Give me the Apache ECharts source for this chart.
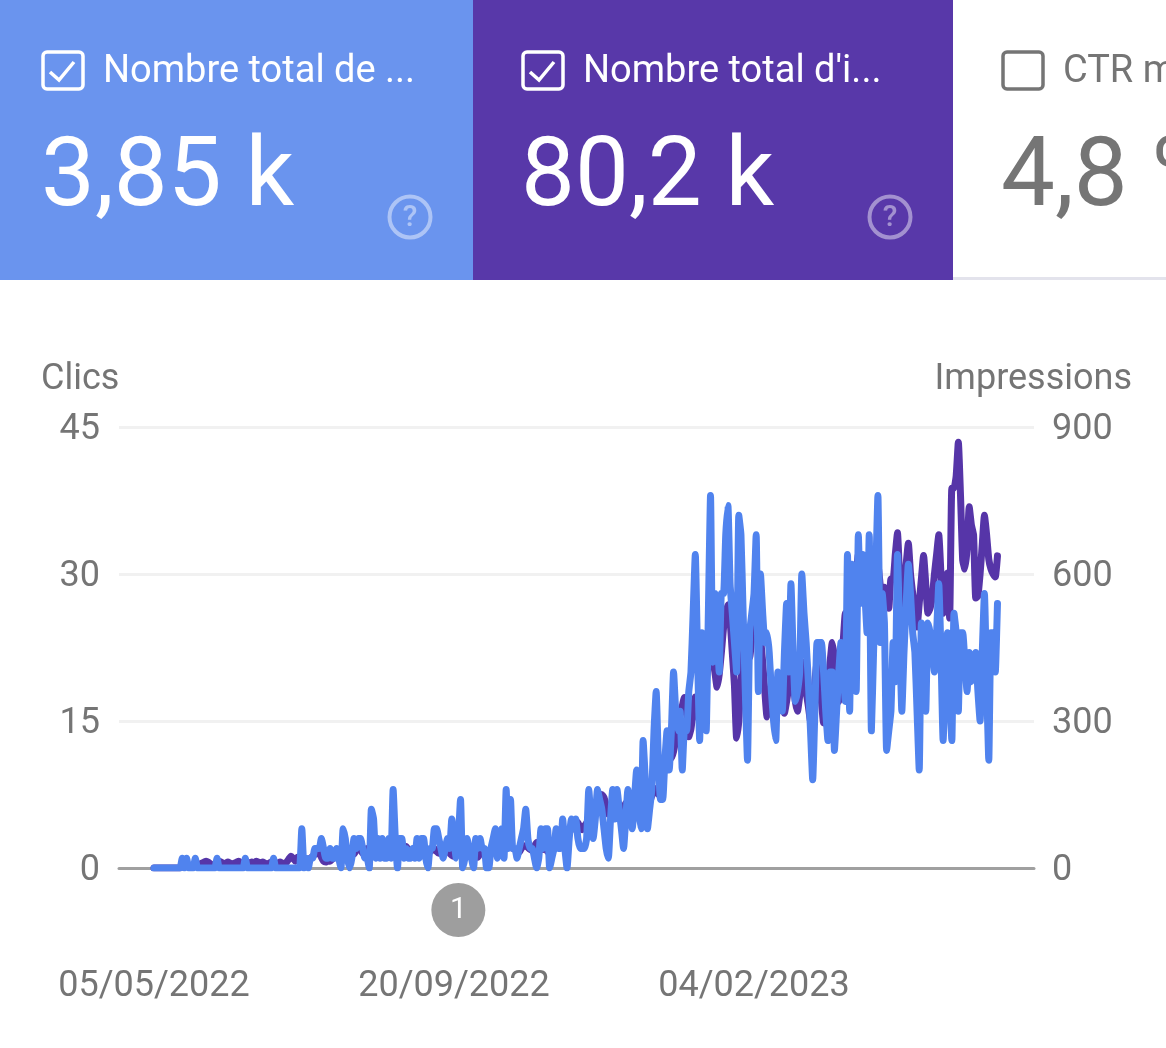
<!DOCTYPE html>
<html lang="fr">
<head>
    <meta charset="UTF-8">
    <title>Performances</title>
    <script src="https://cdn.jsdelivr.net/npm/echarts@6/dist/echarts.min.js"></script>
    <style>
        html, body { margin: 0; padding: 0; background: #fff; overflow: hidden; }
    </style>
</head>
<body>
    <div id="main" style="width: 1166px;height:1048px;"></div>

    <script>
        const fontName = "Roboto"
        const tickLabels = ["05/05/2022", "20/09/2022", "04/02/2023"]
        // position des dates sur l'axe, en nombre de points depuis le début
        const tickDays = [0, 138, 276]
        const annotationDay = 140

        const clics = [
            0,0,0,0,0,0,0,0,0,0,0,0,0,1,0,1,0,0,0,1,
            0,0,0,0,0,0,0,0,0,1,0,0,0,0,0,0,0,0,0,0,
            0,0,1,0,0,0,0,0,0,0,0,0,0,0,0,1,0,0,0,0,
            0,0,0,0,0,0,0,0,4,0,1,0,1,1,2,2,2,3,2,1,
            1,2,1,1,2,1,0,4,3,1,0,1,3,2,3,3,2,1,1,0,
            6,5,1,3,1,3,1,1,3,1,8,3,0,3,3,1,2,1,1,2,
            1,3,1,3,3,1,0,2,2,4,4,3,2,1,2,3,2,5,3,1,
            3,7,0,1,3,2,1,0,3,2,3,2,2,0,0,2,3,4,1,2,
            4,1,8,2,7,2,2,1,2,3,4,6,3,2,2,1,0,1,4,2,
            4,4,0,1,2,4,2,2,5,2,0,3,5,4,5,3,2,2,2,3,
            8,5,3,5,8,7,6,4,2,1,5,8,5,8,6,4,2,5,8,6,
            4,7,10,6,4,13,9,4,6,8,14,18,11,7,7,11,14,10,14,20,
            16,14,16,10,14,14,18,20,26,32,22,13,24,18,14,26,38,21,28,24,
            20,28,28,34,37,29,26,23,20,36,34,26,18,11,24,26,28,34,18,30,
            26,23,24,22,18,15,13,20,18,16,22,27,20,29,22,17,18,20,30,26,
            23,19,14,9,16,23,23,23,20,16,13,20,20,12,16,20,23,20,17,32,
            16,31,25,18,34,27,32,28,24,34,14,22,30,38,23,28,25,12,14,16,
            23,19,32,24,16,22,27,31,28,24,22,16,10,25,20,16,25,24,22,20,
            24,29,22,13,19,24,18,13,26,24,16,24,24,21,18,22,19,20,22,18,15,22,28,19,11,24,24,20,27
        ]

        const impressions = [
            0,0,0,0,0,0,0,0,0,0,0,0,0,2,4,3,2,4,6,4,
            6,8,10,12,14,12,8,6,8,10,14,12,8,10,12,10,8,10,12,14,
            10,8,10,12,10,12,10,14,12,10,12,10,8,10,12,10,8,10,12,10,
            8,12,18,24,20,14,22,20,16,12,14,18,20,24,28,34,30,22,14,12,
            14,14,18,24,30,34,32,30,26,34,38,34,28,36,42,38,30,36,40,34,
            30,32,28,34,36,32,30,38,34,32,40,44,36,32,34,38,44,36,34,32,
            30,34,38,40,36,30,28,34,36,40,34,30,38,28,32,36,30,26,24,30,
            34,40,30,28,26,24,30,28,24,22,30,34,28,24,28,40,36,30,34,38,
            42,36,46,52,44,40,38,34,32,40,44,46,42,38,36,44,52,46,40,38,
            42,34,30,36,44,50,58,62,54,70,78,72,80,88,96,92,84,78,86,92,
            98,104,112,118,126,136,150,144,128,110,118,130,136,128,116,108,118,132,126,112,
            120,128,122,134,150,164,150,140,136,148,156,162,150,172,186,206,232,244,224,238,
            262,290,312,330,348,338,268,284,320,349,330,300,310,340,380,420,470,430,400,369,
            395,440,490,520,537,505,440,373,265,300,380,430,470,440,430,470,500,540,510,470,
            420,360,308,330,360,320,300,340,380,360,316,340,370,400,380,340,320,350,380,420,
            360,330,300,330,380,420,380,340,296,330,370,420,460,430,380,340,400,460,520,480,
            460,520,560,600,640,600,550,580,620,600,560,520,570,620,580,540,573,560,530,590,
            590,640,684,590,500,560,620,663,600,560,520,492,540,590,638,580,520,530,553,600,
            640,680,600,520,560,602,510,775,775,800,869,760,628,610,650,737,700,680,551,555,600,660,720,680,630,610,600,594,637
        ]

        const grey = "#757575"
        const helpColor = "rgba(255,255,255,0.45)"

        // contenu d'une carte de métrique (case à cocher, libellé, total, aide)
        function card(x, fg, label, total, checked, help) {
            const items = [{
                type: "rect",
                shape: { x: x + 43, y: 52, width: 40, height: 37, r: 4 },
                style: { fill: "none", stroke: fg, lineWidth: 3.5 }
            }]
            if (checked) items.push({
                type: "polyline",
                shape: { points: [[x + 50, 72], [x + 59, 80], [x + 74, 62]] },
                style: { fill: "none", stroke: fg, lineWidth: 3.5 }
            })
            items.push({
                type: "text", x: x + 103, y: 72,
                style: { text: label, fill: fg, font: "38px " + fontName, textVerticalAlign: "middle" }
            })
            items.push({
                type: "text", x: x + 41, y: 181,
                style: { text: total, fill: fg, font: "96px " + fontName, textVerticalAlign: "middle" }
            })
            if (help) {
                items.push({
                    type: "circle",
                    shape: { cx: x + help, cy: 217, r: 20.5 },
                    style: { fill: "none", stroke: helpColor, lineWidth: 4 }
                })
                items.push({
                    type: "text", x: x + help, y: 218,
                    style: { text: "?", fill: helpColor, font: "500 30px " + fontName, textAlign: "center", textVerticalAlign: "middle" }
                })
            }
            return items
        }

        const mychart = echarts.init(document.getElementById("main"))
        const cardElements = [
            { type: "rect", shape: { x: 0, y: 0, width: 473, height: 280 }, style: { fill: "#6A94EE" } },
            { type: "rect", shape: { x: 473, y: 0, width: 480, height: 280 }, style: { fill: "#5838A9" } },
            { type: "rect", shape: { x: 953, y: 277, width: 213, height: 3 }, style: { fill: "#E3E3EC" } },
            ...card(0, "#fff", "Nombre total de ...", "3,85 k", true, 410),
            ...card(480, "#fff", "Nombre total d'i...", "80,2 k", true, 410),
            ...card(960, grey, "CTR moyen", "4,8 %", false, 0)
        ]

        // les libellés de l'axe Y sont un peu plus bas que le repère
        const yLabel = (margin) => ({
            margin: margin,
            formatter: "{t|{value}}",
            rich: { t: { color: grey, fontSize: 36, padding: [6, 0, 0, 0] } }
        })

        const option = {
            animation: false,
            textStyle: { fontFamily: fontName },
            graphic: cardElements,
            grid: { left: 119, right: 132, top: 427, bottom: 180 },
            xAxis: {
                type: "value",
                min: -16.1,
                max: 404.8,
                splitLine: { show: false },
                axisLine: { show: true, onZero: false, lineStyle: { color: "#A0A0A0", width: 3 } },
                axisTick: { show: false },
                axisLabel: {
                    customValues: tickDays,
                    formatter: (v) => tickLabels[tickDays.indexOf(v)],
                    color: grey,
                    fontSize: 36,
                    margin: 101
                }
            },
            yAxis: [
                {
                    type: "value", min: 0, max: 45, interval: 15,
                    name: "Clics", nameLocation: "end", nameGap: 29,
                    nameTextStyle: { color: grey, fontSize: 36, align: "left", padding: [0, 0, 0, -113] },
                    axisLine: { show: false }, axisTick: { show: false },
                    axisLabel: yLabel(19),
                    splitLine: { lineStyle: { color: "#F1F1F1", width: 3 } }
                },
                {
                    type: "value", min: 0, max: 900, interval: 300, position: "right",
                    name: "Impressions", nameLocation: "end", nameGap: 29,
                    nameTextStyle: { color: grey, fontSize: 36, align: "right", padding: [0, -98, 0, 0] },
                    axisLine: { show: false }, axisTick: { show: false },
                    axisLabel: yLabel(18),
                    splitLine: { show: false }
                }
            ],
            series: [
                {
                    name: "Impressions", type: "line", yAxisIndex: 1,
                    data: impressions.map((v, i) => [i, v]),
                    showSymbol: false, silent: true, z: 3, smooth: 0.15,
                    lineStyle: { color: "#5635A8", width: 7, cap: "round", join: "round" }
                },
                {
                    name: "Clics", type: "line", yAxisIndex: 0,
                    data: clics.map((v, i) => [i, v]),
                    showSymbol: false, silent: true, z: 4, smooth: 0.15,
                    lineStyle: { color: "#5083EE", width: 7, cap: "round", join: "round" }
                }
            ]
        }

        mychart.setOption(option)

        // pastille d'annotation sous l'axe, placée à partir de l'échelle
        const annot = mychart.convertToPixel({ xAxisIndex: 0, yAxisIndex: 0 }, [annotationDay, 0])
        mychart.setOption({
            graphic: [...cardElements, {
                type: "group",
                x: annot[0],
                y: annot[1] + 42,
                children: [
                    { type: "circle", shape: { r: 27 }, style: { fill: "#9E9E9E" } },
                    { type: "text", style: { text: "1", fill: "#fff", font: "30px " + fontName, textAlign: "center", textVerticalAlign: "middle" } }
                ]
            }]
        })
    </script>
</body>
</html>
